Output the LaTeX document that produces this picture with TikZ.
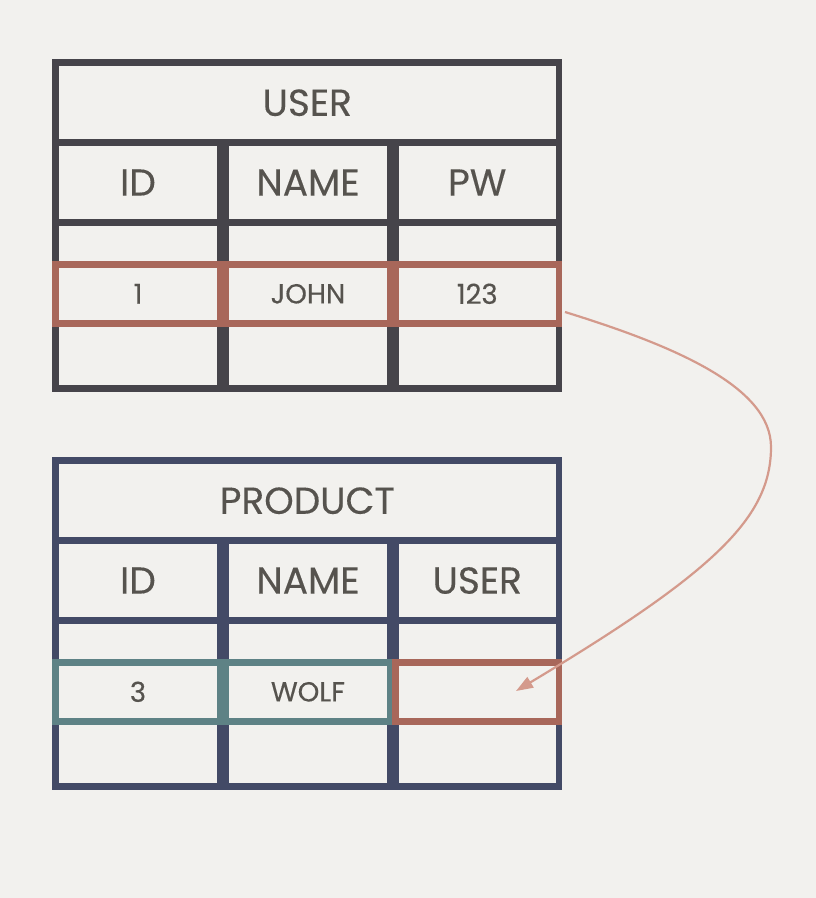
\documentclass[tikz,border=0pt]{standalone}
\usepackage{fontspec}
\setmainfont{Poppins}[FakeBold=0.3]
\usetikzlibrary{arrows.meta}
\definecolor{bg}{HTML}{F2F1EE}
\definecolor{userframe}{HTML}{46444A}
\definecolor{prodframe}{HTML}{434A66}
\definecolor{hired}{HTML}{A8675A}
\definecolor{hiteal}{HTML}{5E8285}
\definecolor{arrowc}{HTML}{D49A8C}
\definecolor{txt}{HTML}{56534E}
\tikzset{
  cell/.style={draw, line width=6.7pt, outer sep=0pt, inner sep=0pt,
    anchor=north west, text=txt, line join=miter},
  headfont/.style={font=\fontsize{37.5}{42}\selectfont},
  datafont/.style={font=\fontsize{27.5}{32}\selectfont},
  wA/.style={minimum width=165pt},
  wC/.style={minimum width=163.5pt},
  link/.style={draw=arrowc, line width=2.2pt, -{Triangle[length=17pt,width=12pt]}}
}
% #1 prefix, #2 frame colour, #3 title, #4 third header, #5 data1, #6 data2, #7 data3, #8 colour of data 1-2, #9 colour of data 3
\newcommand\dbtable[9]{%
  \node[cell, draw=#2, headfont, minimum width=503.5pt, minimum height=80pt] (#1-title) at (55.5,62.7) {#3};
  \node[cell, draw=#2, headfont, wA, minimum height=79.6pt] (#1-h1) at (55.5,142.7) {ID};
  \node[cell, draw=#2, headfont, wA, minimum height=79.6pt] (#1-h2) at (225.5,142.7) {NAME};
  \node[cell, draw=#2, headfont, wC, minimum height=79.6pt] (#1-h3) at (395.5,142.7) {#4};
  \node[cell, draw=#2, wA, minimum height=42pt] (#1-e1) at (55.5,222.3) {};
  \node[cell, draw=#2, wA, minimum height=42pt] (#1-e2) at (225.5,222.3) {};
  \node[cell, draw=#2, wC, minimum height=42pt] (#1-e3) at (395.5,222.3) {};
  \node[cell, draw=#2, wA, minimum height=65pt] (#1-l1) at (55.5,323.3) {};
  \node[cell, draw=#2, wA, minimum height=65pt] (#1-l2) at (225.5,323.3) {};
  \node[cell, draw=#2, wC, minimum height=65pt] (#1-l3) at (395.5,323.3) {};
  \node[cell, draw=#8, datafont, wA, minimum height=59pt] (#1-d1) at (55.5,264.3) {#5};
  \node[cell, draw=#8, datafont, wA, minimum height=59pt] (#1-d2) at (225.5,264.3) {#6};
  \node[cell, draw=#9, datafont, wC, minimum height=59pt] (#1-d3) at (395.5,264.3) {#7};
}
\begin{document}
\begin{tikzpicture}[x=1pt,y=-1pt]
  \fill[bg] (0,0) rectangle (816,898);
  \useasboundingbox (0,0) rectangle (816,898);
  \dbtable{u}{userframe}{USER}{PW}{1}{JOHN}{123}{hired}{hired}
  \begin{scope}[shift={(0,398)}]
    \dbtable{p}{prodframe}{PRODUCT}{USER}{3}{WOLF}{}{hiteal}{hired}
  \end{scope}
  \coordinate (start) at (565,312);
  \coordinate (bend) at (771,447);
  \coordinate (tip) at (516,691);
  \draw[link] (start) .. controls (675,346) and (771,387) .. (bend)
              .. controls (771,517) and (716,571) .. (tip);
\end{tikzpicture}
\end{document}
